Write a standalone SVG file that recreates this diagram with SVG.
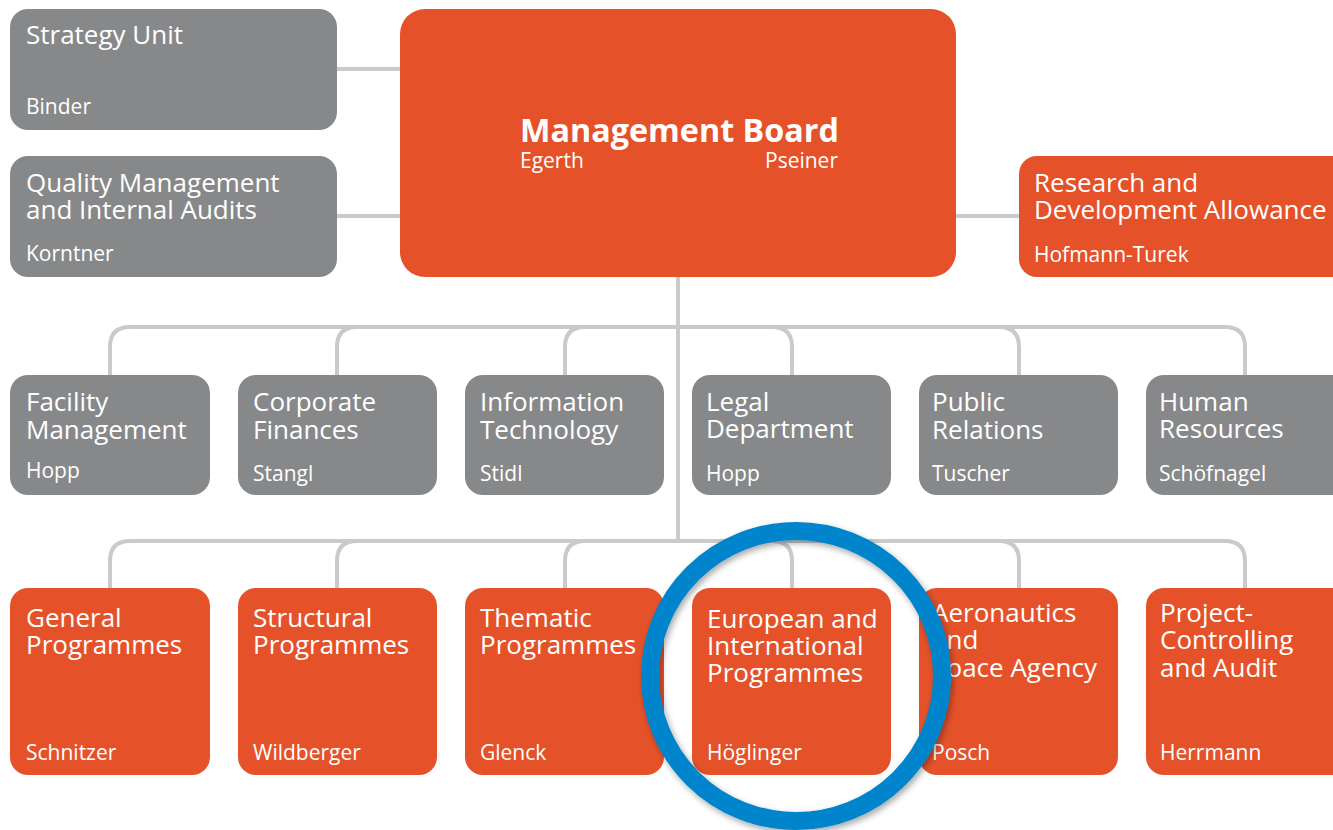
<svg xmlns="http://www.w3.org/2000/svg" width="1333" height="830" viewBox="0 0 1333 830">
<defs>
<style>
.g{fill:#87888a}
.o{fill:#e5522a}
.t{font-family:"Open Sans","Noto Sans",sans-serif;font-size:26px;fill:#fff}
.n{font-family:"Open Sans","Noto Sans",sans-serif;font-size:21px;fill:#fff}
.c{fill:none;stroke:#c9cacc;stroke-width:4}
</style>
<filter id="sh" x="-20%" y="-20%" width="140%" height="140%">
<feDropShadow dx="2" dy="3" stdDeviation="3" flood-color="#000" flood-opacity="0.35"/>
</filter>
</defs>
<rect width="1333" height="830" fill="#fff"/>
<g id="connectors" class="c">
<path d="M337 69H400M337 216H400M956 216H1019"/>
<path d="M678 277V541"/>
<path d="M130 327H1225"/>
<path d="M110 375V347Q110 327 130 327M337 375V347Q337 327 357 327M565 375V347Q565 327 585 327"/>
<path d="M792 375V347Q792 327 772 327M1019 375V347Q1019 327 999 327M1245 375V347Q1245 327 1225 327"/>
<path d="M130 541H1225"/>
<path d="M110 588V561Q110 541 130 541M337 588V561Q337 541 357 541M565 588V561Q565 541 585 541"/>
<path d="M792 588V561Q792 541 772 541M1019 588V561Q1019 541 999 541M1245 588V561Q1245 541 1225 541"/>
</g>
<g id="strategy"><rect class="g" x="10" y="9" width="327" height="121" rx="18"/><text class="t" x="26" y="44">Strategy Unit</text><text class="n" x="26" y="114">Binder</text></g>
<g id="quality"><rect class="g" x="10" y="156" width="327" height="121" rx="18"/><text class="t" x="26" y="192">Quality Management</text><text class="t" x="26" y="219">and Internal Audits</text><text class="n" x="26" y="261">Korntner</text></g>
<g id="board"><rect class="o" x="400" y="9" width="556" height="268" rx="25"/><text x="520" y="142" font-family="'Open Sans','Noto Sans',sans-serif" font-size="32" font-weight="bold" fill="#fff" textLength="319" lengthAdjust="spacingAndGlyphs">Management Board</text><text class="n" x="520" y="168">Egerth</text><text class="n" x="838" y="168" text-anchor="end">Pseiner</text></g>
<g id="research"><rect class="o" x="1019" y="156" width="340" height="121" rx="18"/><text class="t" x="1034" y="192">Research and</text><text class="t" x="1034" y="219">Development Allowance</text><text class="n" x="1034" y="262">Hofmann-Turek</text></g>
<g id="facility"><rect class="g" x="10" y="375" width="200" height="120" rx="18"/><text class="t" x="26" y="411">Facility</text><text class="t" x="26" y="439">Management</text><text class="n" x="26" y="478">Hopp</text></g>
<g id="finances"><rect class="g" x="238" y="375" width="199" height="120" rx="18"/><text class="t" x="253" y="411">Corporate</text><text class="t" x="253" y="439">Finances</text><text class="n" x="253" y="481">Stangl</text></g>
<g id="it"><rect class="g" x="465" y="375" width="199" height="120" rx="18"/><text class="t" x="480" y="411">Information</text><text class="t" x="480" y="439">Technology</text><text class="n" x="480" y="481">Stidl</text></g>
<g id="legal"><rect class="g" x="692" y="375" width="199" height="120" rx="18"/><text class="t" x="706" y="411">Legal</text><text class="t" x="706" y="438">Department</text><text class="n" x="706" y="481">Hopp</text></g>
<g id="pr"><rect class="g" x="919" y="375" width="199" height="120" rx="18"/><text class="t" x="932" y="411">Public</text><text class="t" x="932" y="439">Relations</text><text class="n" x="932" y="481">Tuscher</text></g>
<g id="hr"><rect class="g" x="1146" y="375" width="210" height="120" rx="18"/><text class="t" x="1159" y="411">Human</text><text class="t" x="1159" y="438">Resources</text><text class="n" x="1159" y="481">Schöfnagel</text></g>
<g id="general"><rect class="o" x="10" y="588" width="200" height="187" rx="18"/><text class="t" x="26" y="627">General</text><text class="t" x="26" y="654">Programmes</text><text class="n" x="26" y="760">Schnitzer</text></g>
<g id="structural"><rect class="o" x="238" y="588" width="199" height="187" rx="18"/><text class="t" x="253" y="627">Structural</text><text class="t" x="253" y="654">Programmes</text><text class="n" x="253" y="760">Wildberger</text></g>
<g id="thematic"><rect class="o" x="465" y="588" width="199" height="187" rx="18"/><text class="t" x="480" y="627">Thematic</text><text class="t" x="480" y="654">Programmes</text><text class="n" x="480" y="760">Glenck</text></g>
<g id="european"><rect class="o" x="692" y="588" width="199" height="187" rx="18"/><text class="t" x="707" y="628">European and</text><text class="t" x="707" y="655">International</text><text class="t" x="707" y="682">Programmes</text><text class="n" x="707" y="760">Höglinger</text></g>
<g id="aeronautics"><rect class="o" x="919" y="588" width="199" height="187" rx="18"/><text class="t" x="932" y="622">Aeronautics</text><text class="t" x="932" y="649">and</text><text class="t" x="932" y="677">Space Agency</text><text class="n" x="932" y="760">Posch</text></g>
<g id="controlling"><rect class="o" x="1146" y="588" width="210" height="187" rx="18"/><text class="t" x="1160" y="622">Project-</text><text class="t" x="1160" y="649">Controlling</text><text class="t" x="1160" y="677">and Audit</text><text class="n" x="1160" y="760">Herrmann</text></g>
<g id="highlight"><ellipse cx="796" cy="676" rx="146" ry="145" fill="none" stroke="#0584cb" stroke-width="18" filter="url(#sh)"/></g>
</svg>
